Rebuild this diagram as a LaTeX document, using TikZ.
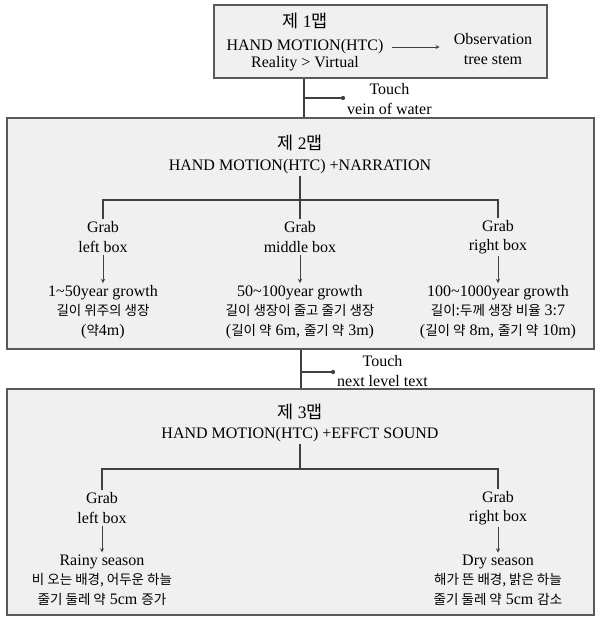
\documentclass[tikz,border=0pt]{standalone}
\usepackage{fontspec}
\setmainfont{Liberation Serif}
\newfontfamily\kr{Noto Sans CJK KR}
\usetikzlibrary{shapes, arrows}

\newcommand{\ko}[1]{{\kr\fontsize{13.5}{19.5}\selectfont #1}}

\begin{document}
\begin{tikzpicture}[x=1pt, y=-1pt, >=stealth]
    \tikzstyle{map} = [rectangle, draw=black!65, line width=1.4pt, fill=black!6, inner sep=0pt]
    \tikzstyle{txt} = [align=center, inner sep=2pt, font=\fontsize{16}{19.5}\selectfont]
    \tikzstyle{title} = [inner sep=2pt, font=\fontsize{17.5}{20}\selectfont]
    \tikzstyle{line} = [draw, black!75, line width=1.1pt]
    \tikzstyle{arr} = [draw, ->, black!75, line width=0.9pt]
    \tikzstyle{dot} = [circle, fill=black!75, inner sep=1.5pt]

    \useasboundingbox (0,0) rectangle (595,618);

    % Boxes
    \node [map, minimum width=333pt, minimum height=73pt] (map1) at (380.5,41.5) {};
    \node [map, minimum width=587pt, minimum height=231pt] (map2) at (300.5,233.5) {};
    \node [map, minimum width=587pt, minimum height=226pt] (map3) at (300.5,502) {};

    % Map 1
    \node [title] (t1) at (305,21) {{\kr 제} 1{\kr 맵}};
    \node [txt] (hm1) at (305,47) {HAND MOTION(HTC)};
    \node [txt] (rv1) at (305,64) {Reality > Virtual};
    \node [txt] (obs) at (493,49) {Observation\\tree stem};

    % Touch 1
    \coordinate (j1) at (304,98);
    \node [dot] (d1) at (343,98) {};
    \node [txt, anchor=west] (tl1) at (345,99) {Touch\\vein of water};

    % Map 2
    \node [title] (t2) at (300,143) {{\kr 제} 2{\kr 맵}};
    \node [txt] (hm2) at (300,167) {HAND MOTION(HTC) +NARRATION};
    \coordinate (b2) at (300,200);
    \node [txt] (g2l) at (103,237) {Grab\\left box};
    \node [txt] (g2m) at (300,237) {Grab\\middle box};
    \node [txt] (g2r) at (498,237) {Grab\\right box};
    \node [txt] (r2l) at (103,312) {1\textasciitilde50year growth\\\ko{길이 위주의 생장}\\(\ko{약}4m)};
    \node [txt] (r2m) at (300,312) {50\textasciitilde100year growth\\\ko{길이 생장이 줄고 줄기 생장}\\(\ko{길이 약} 6m, \ko{줄기 약} 3m)};
    \node [txt] (r2r) at (498,312) {100\textasciitilde1000year growth\\\ko{길이}:\ko{두께 생장 비율} 3:7\\(\ko{길이 약} 8m, \ko{줄기 약} 10m)};

    % Touch 2
    \coordinate (j2) at (301,372);
    \node [dot] (d2) at (333,372) {};
    \node [txt, anchor=west] (tl2) at (335,371) {Touch\\next level text};

    % Map 3
    \node [title] (t3) at (300,412) {{\kr 제} 3{\kr 맵}};
    \node [txt] (hm3) at (300,435) {HAND MOTION(HTC) +EFFCT SOUND};
    \coordinate (b3) at (300,469);
    \node [txt] (g3l) at (102,508) {Grab\\left box};
    \node [txt] (g3r) at (498,508) {Grab\\right box};
    \node [txt] (r3l) at (102,580) {Rainy season\\\ko{비 오는 배경, 어두운 하늘}\\\ko{줄기 둘레 약} 5cm \ko{증가}};
    \node [txt] (r3r) at (498,580) {Dry season\\\ko{해가 뜬 배경, 밝은 하늘}\\\ko{줄기 둘레 약} 5cm \ko{감소}};

    % Paths
    \path [arr, shorten <=6pt, shorten >=12pt] (hm1.east) -- (hm1.east -| obs.west);
    \path [line] (j1 |- map1.south) -- (j1 |- map2.north);
    \path [line] (j1) -- (d1);
    \path [line] (hm2) -- (g2m);
    \path [line] (g2l.north) |- (b2) -| (g2r.north);
    \path [arr] (g2l) -- (r2l);
    \path [arr] (g2m) -- (r2m);
    \path [arr] (g2r) -- (r2r);
    \path [line] (j2 |- map2.south) -- (j2 |- map3.north);
    \path [line] (j2) -- (d2);
    \path [line] (hm3) -- (b3);
    \path [line] (g3l.north) |- (b3) -| (g3r.north);
    \path [arr] (g3l) -- (r3l);
    \path [arr] (g3r) -- (r3r);

\end{tikzpicture}
\end{document}
